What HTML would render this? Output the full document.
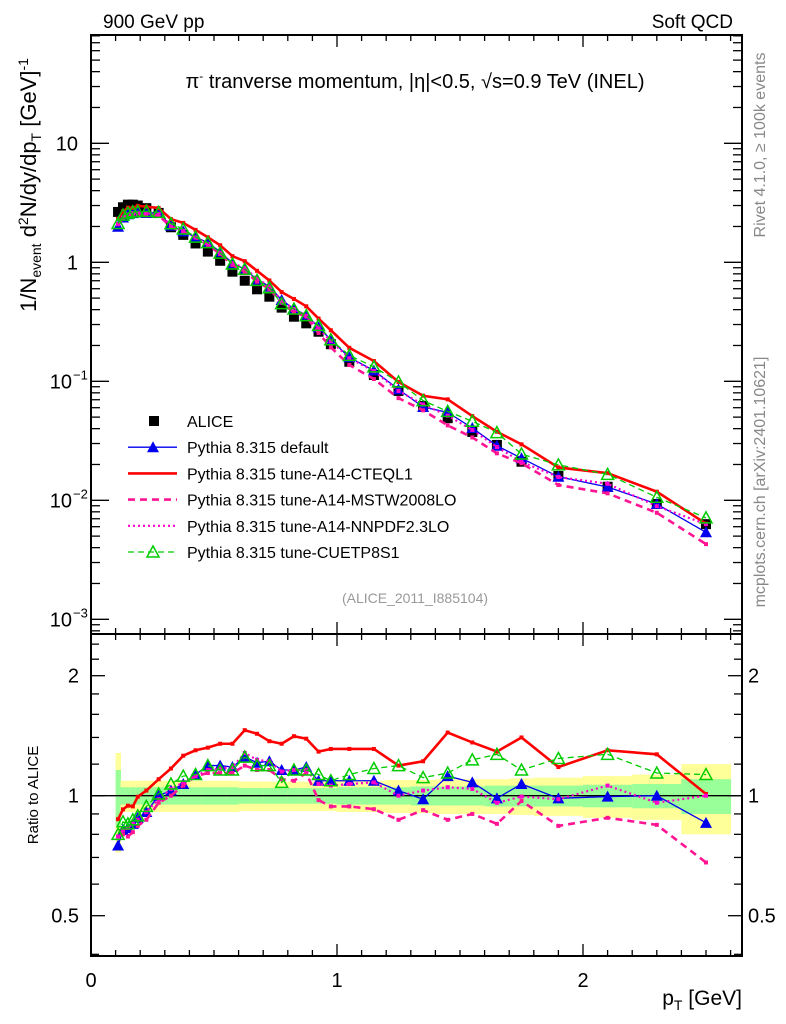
<!DOCTYPE html>
<html><head><meta charset="utf-8"><style>
body{margin:0;background:#fff}
svg{display:block;font-family:"Liberation Sans",Arial,sans-serif}
</style></head><body>
<svg id="c" width="786" height="1024" viewBox="0 0 786 1024" xmlns="http://www.w3.org/2000/svg">
<text x="103" y="28" font-size="19">900 GeV pp</text>
<text x="733" y="28" font-size="19" text-anchor="end">Soft QCD</text>
<text x="415" y="88" font-size="20" text-anchor="middle">π<tspan dy="-8" font-size="12">-</tspan><tspan dy="8"> tranverse momentum, |η|&lt;0.5, √s=0.9 TeV (INEL)</tspan></text>
<text transform="translate(36,185) rotate(-90)" font-size="22" text-anchor="middle">1/N<tspan font-size="14" dy="5">event</tspan><tspan dy="-5"> d</tspan><tspan font-size="14" dy="-8">2</tspan><tspan dy="8">N/dy/dp</tspan><tspan font-size="14" dy="5">T</tspan><tspan dy="-5">  [GeV]</tspan><tspan font-size="14" dy="-8">-1</tspan></text>
<text transform="translate(38,795) rotate(-90)" font-size="15" text-anchor="middle">Ratio to ALICE</text>
<text x="742" y="1005" font-size="21" text-anchor="end">p<tspan font-size="14" dy="5">T</tspan><tspan dy="-5"> [GeV]</tspan></text>
<text transform="translate(765,145) rotate(-90)" font-size="16" fill="#888" text-anchor="middle">Rivet 4.1.0, ≥ 100k events</text>
<text transform="translate(765,482) rotate(-90)" font-size="16" fill="#888" text-anchor="middle">mcplots.cern.ch [arXiv:2401.10621]</text>
<text x="415" y="603" font-size="14" fill="#999" text-anchor="middle">(ALICE_2011_I885104)</text>
<g id="bands"></g><g id="plots"></g><g id="axes"></g><g id="legend"></g>
</svg>
<script>
const pt=[0.11,0.13,0.15,0.17,0.19,0.225,0.275,0.325,0.375,0.425,0.475,0.525,0.575,0.625,0.675,0.725,0.775,0.825,0.875,0.925,0.975,1.05,1.15,1.25,1.35,1.45,1.55,1.65,1.75,1.9,2.1,2.3,2.5];
const binLo=[0.1,0.12,0.14,0.16,0.18,0.2,0.25,0.3,0.35,0.4,0.45,0.5,0.55,0.6,0.65,0.7,0.75,0.8,0.85,0.9,0.95,1.0,1.1,1.2,1.3,1.4,1.5,1.6,1.7,1.8,2.0,2.2,2.4];
const binHi=[0.12,0.14,0.16,0.18,0.2,0.25,0.3,0.35,0.4,0.45,0.5,0.55,0.6,0.65,0.7,0.75,0.8,0.85,0.9,0.95,1.0,1.1,1.2,1.3,1.4,1.5,1.6,1.7,1.8,2.0,2.2,2.4,2.6];
const alice=[2.65,2.9,3.05,3.05,3.0,2.85,2.6,1.97,1.70,1.44,1.23,1.03,0.834,0.70,0.593,0.514,0.416,0.349,0.307,0.261,0.205,0.146,0.113,0.083,0.062,0.049,0.0375,0.0292,0.0211,0.0160,0.0130,0.0093,0.0063];
const errTot=[0.28,0.09,0.09,0.09,0.09,0.09,0.09,0.09,0.09,0.09,0.09,0.09,0.09,0.085,0.085,0.085,0.085,0.085,0.085,0.085,0.085,0.09,0.09,0.095,0.095,0.1,0.1,0.1,0.105,0.11,0.12,0.13,0.2];
const errStat=[0.16,0.05,0.05,0.05,0.05,0.05,0.05,0.05,0.05,0.05,0.05,0.05,0.05,0.045,0.045,0.045,0.045,0.045,0.045,0.045,0.045,0.05,0.05,0.05,0.055,0.055,0.055,0.06,0.06,0.06,0.065,0.07,0.1];
const rDefault=[0.75,0.82,0.83,0.85,0.88,0.91,1.0,1.03,1.07,1.13,1.19,1.19,1.18,1.25,1.21,1.22,1.16,1.16,1.18,1.09,1.09,1.09,1.09,1.03,0.98,1.12,1.08,0.985,1.07,0.985,0.995,1.0,0.855];
const rCteq=[0.873,0.924,0.944,0.94,0.994,1.03,1.10,1.17,1.26,1.30,1.32,1.35,1.35,1.46,1.43,1.37,1.35,1.41,1.39,1.29,1.31,1.31,1.31,1.19,1.22,1.44,1.36,1.29,1.40,1.18,1.30,1.27,1.01];
const rMstw=[0.79,0.80,0.79,0.81,0.84,0.87,0.96,1.0,1.06,1.12,1.14,1.14,1.14,1.19,1.16,1.16,1.10,1.09,1.14,0.975,0.94,0.94,0.925,0.87,0.92,0.87,0.90,0.85,0.97,0.84,0.88,0.845,0.68];
const rNnpdf=[0.79,0.82,0.83,0.85,0.87,0.91,0.98,1.04,1.08,1.12,1.16,1.17,1.18,1.28,1.23,1.22,1.15,1.16,1.16,1.07,1.06,1.07,1.08,1.0,1.03,1.05,1.04,0.96,0.995,0.98,1.06,0.96,1.0];
const rCuetp=[0.80,0.86,0.85,0.87,0.89,0.94,1.01,1.07,1.12,1.13,1.19,1.16,1.16,1.25,1.19,1.19,1.08,1.16,1.16,1.13,1.09,1.13,1.17,1.19,1.11,1.14,1.23,1.27,1.16,1.24,1.27,1.14,1.13];
const xTicksMajor=[0,1,2];
const yMainTicks=[{v:10,t:"10"},{v:1,t:"1"},{v:0.1,t:"10",e:"−1"},{v:0.01,t:"10",e:"−2"},{v:0.001,t:"10",e:"−3"}];
const rTicks=[{v:2,t:"2"},{v:1,t:"1"},{v:0.5,t:"0.5"}];

const NS="http://www.w3.org/2000/svg";
const L=91,R=742,MT=35,MB=634,RT=634,RB=956;
const X=v=>L+v*246;
const YM=v=>262.3-119*Math.log10(v);
const YR=v=>795.7-120*Math.log2(v);
function mk(par,tag,at){const e=document.createElementNS(NS,tag);for(const k in at)e.setAttribute(k,at[k]);document.getElementById(par).appendChild(e);return e;}

for(let i=0;i<pt.length;i++){
  let e=mk('bands','rect',{x:X(binLo[i]),width:X(binHi[i])-X(binLo[i])+0.5,y:YR(1+errTot[i]),height:YR(1-errTot[i])-YR(1+errTot[i]),fill:'#ffff99'});
  
  
  let g=mk('bands','rect',{x:X(binLo[i]),width:X(binHi[i])-X(binLo[i])+0.5,y:YR(1+errStat[i]),height:YR(1-errStat[i])-YR(1+errStat[i]),fill:'#99ff99'});
  
  
}
let ref=mk('bands','line',{x1:L,x2:R,y1:YR(1),y2:YR(1),stroke:'#000','stroke-width':1.3});



alice.forEach((v,i)=>{
  let s=mk('plots','rect',{x:X(pt[i])-5,y:YM(v)-5,width:10,height:10,fill:'#000'});
  
  
});

const series=[
 {name:'default',r:rDefault,c:'#0000ee',w:1.3,d:'',m:'tri'},
 {name:'cteql1',r:rCteq,c:'#ff0000',w:2.6,d:'',m:'sq'},
 {name:'mstw2008lo',r:rMstw,c:'#ff1493',w:2.6,d:'7,5',m:'sq'},
 {name:'nnpdf23lo',r:rNnpdf,c:'#ff00cc',w:2.2,d:'2,3',m:'sq'},
 {name:'cuetp8s1',r:rCuetp,c:'#00cc00',w:1.3,d:'6,4',m:'otri'}];
function marker(par,m,x,y,c,nm){
  let e;
  if(m==='tri')e=mk(par,'polygon',{points:`${x},${y-6} ${x-6},${y+5} ${x+6},${y+5}`,fill:c});
  else if(m==='otri')e=mk(par,'polygon',{points:`${x},${y-6} ${x-6},${y+5} ${x+6},${y+5}`,fill:'none',stroke:c,'stroke-width':1.5});
  else e=mk(par,'rect',{x:x-2,y:y-2,width:4,height:4,fill:c});
  
  
}
series.forEach(s=>{
  const mainPts=s.r.map((r,i)=>`${X(pt[i])},${YM(alice[i]*r)}`).join(' ');
  const ratPts=s.r.map((r,i)=>`${X(pt[i])},${YR(r)}`).join(' ');
  let a=mk('plots','polyline',{points:mainPts,fill:'none',stroke:s.c,'stroke-width':s.w,'stroke-dasharray':s.d});
  
  
  let b=mk('plots','polyline',{points:ratPts,fill:'none',stroke:s.c,'stroke-width':s.w,'stroke-dasharray':s.d});
  
  
  s.r.forEach((r,i)=>{
    marker('plots',s.m,X(pt[i]),YM(alice[i]*r),s.c,s.name+'-main-point');
    marker('plots',s.m,X(pt[i]),YR(r),s.c,s.name+'-ratio-point');
  });
});

function ln(x1,y1,x2,y2,w,nm){let e=mk('axes','line',{x1,y1,x2,y2,stroke:'#000','stroke-width':w||1.3});return e;}
let f1=mk('axes','rect',{x:L,y:MT,width:R-L,height:MB-MT,fill:'none',stroke:'#000','stroke-width':2});


let f2=mk('axes','rect',{x:L,y:RT,width:R-L,height:RB-RT,fill:'none',stroke:'#000','stroke-width':2});


for(let k=1;k<=26;k++){
  const v=k/10,maj=k%10===0,len=maj?12:6,x=X(v);
  ln(x,MT,x,MT+len,1.3,'x-tick');ln(x,MB,x,MB-len,1.3,'x-tick');
  ln(x,RT,x,RT+len,1.3,'x-tick');ln(x,RB,x,RB-len,1.3,'x-tick');
}
xTicksMajor.forEach(v=>{let t=mk('axes','text',{x:X(v),y:RB+31,'font-size':20,'text-anchor':'middle'});t.textContent=v;});
for(let d=-4;d<=1;d++){for(let m=1;m<=9;m++){const v=m*Math.pow(10,d),y=YM(v);if(y<MT||y>MB)continue;const len=m===1?18:9;ln(L,y,L+len,y,1.3,'y-tick');ln(R,y,R-len,y,1.3,'y-tick');}}
yMainTicks.forEach(o=>{let t=mk('axes','text',{x:o.e?72:78,y:YM(o.v)+7,'font-size':20,'text-anchor':'end'});t.textContent=o.t;if(o.e){let s=mk('axes','text',{x:73,y:YM(o.v)-2,'font-size':13});s.textContent=o.e;}});
[0.4,0.5,0.6,0.7,0.8,0.9,1,1.2,1.4,1.6,1.8,2,2.2,2.4].forEach(v=>{const y=YR(v);if(y<RT||y>RB)return;const len=(v===0.5||v===1||v===2)?14:8;ln(L,y,L+len,y,1.3,'ratio-y-tick');ln(R,y,R-len,y,1.3,'ratio-y-tick');});
rTicks.forEach(o=>{let t=mk('axes','text',{x:79,y:YR(o.v)+7,'font-size':20,'text-anchor':'end'});t.textContent=o.t;let u=mk('axes','text',{x:748,y:YR(o.v)+7,'font-size':20});u.textContent=o.t;});

const legLabels=['ALICE','Pythia 8.315 default','Pythia 8.315 tune-A14-CTEQL1','Pythia 8.315 tune-A14-MSTW2008LO','Pythia 8.315 tune-A14-NNPDF2.3LO','Pythia 8.315 tune-CUETP8S1'];
legLabels.forEach((lab,i)=>{
  const y=421+i*26.2;
  let t=mk('legend','text',{x:187,y:y+6,'font-size':16});t.textContent=lab;
  
  
  if(i===0){let s=mk('legend','rect',{x:149,y:y-5,width:10,height:10,fill:'#000'});}
  else{const s=series[i-1];let l=mk('legend','line',{x1:128,x2:177,y1:y,y2:y,stroke:s.c,'stroke-width':s.w,'stroke-dasharray':s.d});
    if(s.m!=='sq')marker('legend',s.m,153,y,s.c,'legend-marker');}
});
</script>
</body></html>
